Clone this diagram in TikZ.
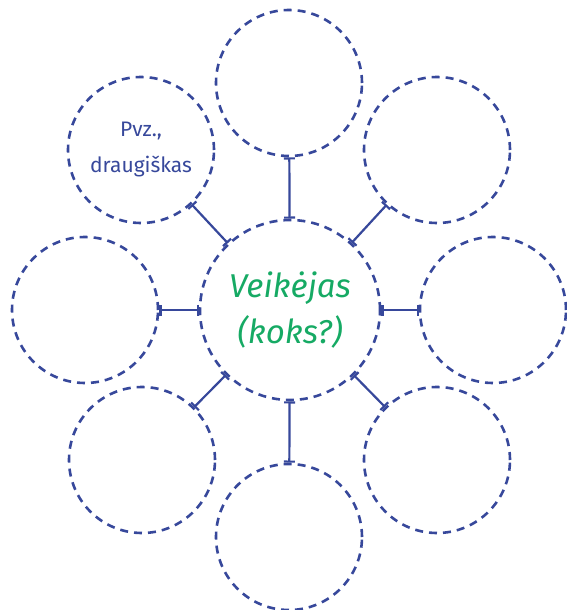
\documentclass[tikz,border=0pt]{standalone}
\usepackage{fontspec}
\setmainfont{Fira Sans}
\usetikzlibrary{arrows.meta}
\definecolor{inkblue}{RGB}{55,72,155}
\definecolor{inkgreen}{RGB}{22,170,100}

\begin{document}
\begin{tikzpicture}[x=1pt, y=-1pt,
  bubble/.style={circle, draw=inkblue, dash pattern=on 8pt off 6pt, line width=2.6pt,
                 minimum size=146pt, inner sep=0pt, align=center, text=inkblue,
                 font=\fontsize{21}{36}\selectfont},
  hub/.style={bubble, minimum size=180pt, text=inkgreen,
              font=\itshape\fontsize{33}{46}\selectfont},
  link/.style={{Bar[width=11pt,line width=2.2pt]}-{Bar[width=11pt,line width=2.2pt]},
               draw=inkblue, line width=2.2pt}
]
\useasboundingbox (0,0) rectangle (567,610);
\node[hub] (ctr) at (290,310) {Veikėjas\\(koks?)};
\node[bubble] (top) at (289,83) {};
\node[bubble] (tl) at (141,150) {Pvz.,\\draugiškas};
\node[bubble] (tr) at (437,150) {};
\node[bubble] (lft) at (85,310) {};
\node[bubble] (rgt) at (493,310) {};
\node[bubble] (bl) at (142,460) {};
\node[bubble] (br) at (437,460) {};
\node[bubble] (bot) at (289,537) {};
\draw[link] (ctr) -- (top); \draw[link] (ctr) -- (tl);
\draw[link] (ctr) -- (tr);  \draw[link] (ctr) -- (lft);
\draw[link] (ctr) -- (rgt); \draw[link] (ctr) -- (bl);
\draw[link] (ctr) -- (br);  \draw[link] (ctr) -- (bot);
\end{tikzpicture}
\end{document}
